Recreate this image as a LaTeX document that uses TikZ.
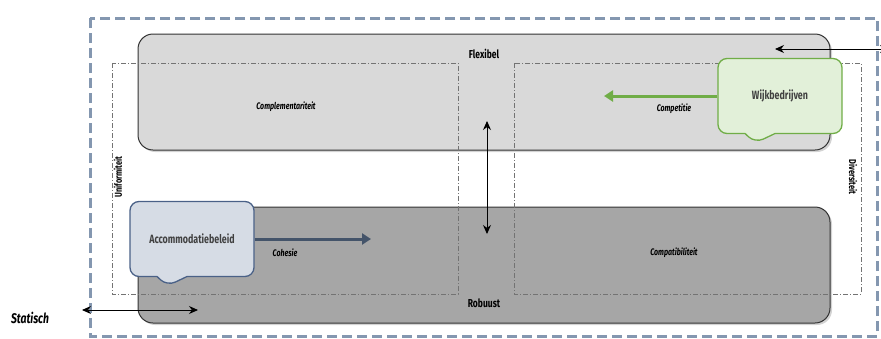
\documentclass[tikz,border=0pt]{standalone}
\usepackage{fontspec}
\newfontfamily\condfont[FakeStretch=0.74]{Fira Sans}
\usetikzlibrary{shapes.callouts,shadows,arrows.meta}
\definecolor{framecol}{HTML}{8497B0}
\definecolor{bandlight}{HTML}{D9D9D9}
\definecolor{banddark}{HTML}{A6A6A6}
\definecolor{wijkfill}{HTML}{E2F0D9}
\definecolor{wijkline}{HTML}{70AD47}
\definecolor{accfill}{HTML}{D6DCE5}
\definecolor{accline}{HTML}{4A6187}
\definecolor{accarrow}{HTML}{44546A}
\begin{document}
\begin{tikzpicture}[x=1pt,y=-1pt,
  band/.style = {draw=black!80, line width=1pt, rounded corners=15pt,
    minimum width=692pt, minimum height=116pt,
    drop shadow={opacity=0.35, shadow xshift=2pt, shadow yshift=-2pt}},
  zone/.style = {draw=black!55, line width=0.5pt,
    dash pattern=on 5pt off 2pt on 1pt off 2pt},
  lbl/.style = {font=\condfont\bfseries\fontsize{11.5}{13}\selectfont},
  ilbl/.style = {font=\condfont\bfseries\itshape\fontsize{9.5}{11}\selectfont},
  bubble/.style = {rectangle callout, rounded corners=9pt, line width=1.3pt,
    minimum width=124pt, minimum height=75pt, callout pointer width=30pt,
    font=\condfont\bfseries\fontsize{12}{14}\selectfont},
  dbl/.style = {{Stealth[length=9pt,width=8pt]}-{Stealth[length=9pt,width=8pt]}, line width=0.9pt}
]
  \useasboundingbox (0,0) rectangle (881,338);
  % kader
  \draw[framecol, line width=3pt, dash pattern=on 10pt off 5pt]
    (90,18) rectangle (877,336);
  % banden
  \node[band, fill=bandlight] (flexband) at (484,92) {};
  \node[band, fill=banddark] (robband) at (484,265) {};
  % zones
  \draw[zone] (112,63) rectangle (458,294);
  \draw[zone] (514,63) rectangle (861,294);
  % labels
  \node[lbl] (flex) at (484,54) {Flexibel};
  \node[lbl] (rob) at (484,303) {Robuust};
  \node[ilbl] (compl) at (286,107) {Complementariteit};
  \node[ilbl] (compet) at (674,109) {Competitie};
  \node[ilbl] (compat) at (674,253) {Compatibiliteit};
  \node[ilbl] (coh) at (285,253) {Cohesie};
  \node[lbl, font=\condfont\bfseries\fontsize{10}{12}\selectfont, rotate=90] (unif) at (118,177) {Uniformiteit};
  \node[lbl, font=\condfont\bfseries\fontsize{10}{12}\selectfont, rotate=-90] (div) at (853,177) {Diversiteit};
  \node[font=\condfont\bfseries\itshape\fontsize{14}{16}\selectfont] (stat) at (30,318) {Statisch};
  % pijlen
  \coordinate (vtop) at (487,121);
  \coordinate (vbot) at (487,234);
  \draw[dbl] (vtop) -- (vbot);
  \coordinate (hleft) at (82,310);
  \coordinate (hright) at (198,310);
  \draw[dbl] (hleft) -- (hright);
  \coordinate (tleft) at (775,49);
  \coordinate (tright) at (889,49);
  \draw[dbl] (tleft) -- (tright);
  % wijkbedrijven
  \node[bubble, draw=wijkline, fill=wijkfill, text=black!75,
    callout absolute pointer={(755,143)}] (wijk) at (780,96) {Wijkbedrijven};
  \coordinate (wijktip) at (604,96);
  \draw[wijkline, line width=3pt, -{Triangle[length=9pt,width=11pt]}] (wijk.west) -- (wijktip);
  % accommodatiebeleid
  \node[bubble, draw=accline, fill=accfill, text=black!75,
    callout absolute pointer={(167,286)}] (acc) at (192,239) {Accommodatiebeleid};
  \coordinate (acctip) at (371,239);
  \draw[accarrow, line width=3pt, -{Triangle[length=9pt,width=11pt]}] (acc.east) -- (acctip);
\end{tikzpicture}
\end{document}
